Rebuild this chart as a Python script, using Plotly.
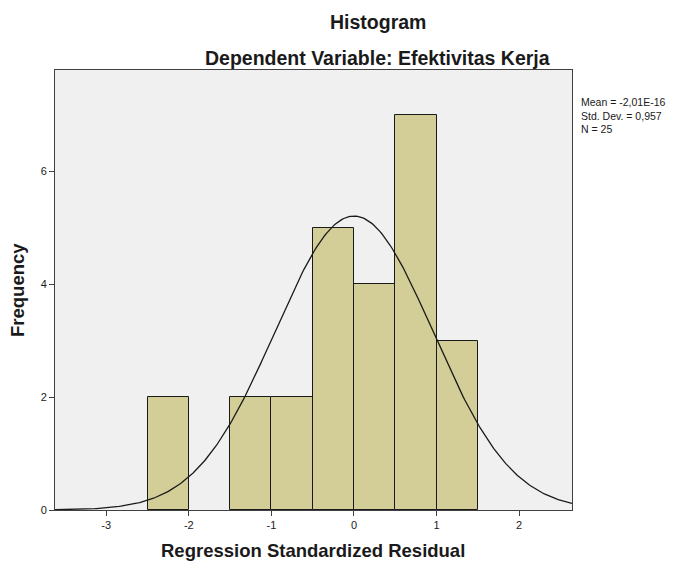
import numpy as np
import plotly.graph_objects as go

# Data
bin_centers = [-2.25, -1.25, -0.75, -0.25, 0.25, 0.75, 1.25]
counts = [2, 2, 2, 5, 4, 7, 3]
bin_width = 0.5
mean_val = -2.01e-16
std_val = 0.957
n_val = 25
x_ticks = [-3, -2, -1, 0, 1, 2]
y_ticks = [0, 2, 4, 6]

# normal curve scaled to histogram
xs = np.linspace(-3.62, 2.64, 300)
ys = n_val * bin_width / (std_val * np.sqrt(2 * np.pi)) * np.exp(-0.5 * ((xs - mean_val) / std_val) ** 2)

fig = go.Figure()
fig.add_trace(go.Bar(x=bin_centers, y=counts, width=bin_width,
                     marker=dict(color="#D3CE97", line=dict(color="#1a1a1a", width=1)),
                     hoverinfo="skip"))
fig.add_trace(go.Scatter(x=xs, y=ys, mode="lines",
                         line=dict(color="#1a1a1a", width=1.3), hoverinfo="skip"))

FONT = "Liberation Sans, Arial, sans-serif"
TXT = "#1a1a1a"
OFF = 8  # page body margin offset
W, H = 689 - OFF, 563 - OFF
L = 55 - OFF
T = 70 - OFF
R = W - (572 - OFF)
B = H - (510 - OFF)
pw, ph = W - L - R, H - T - B

def px(x):
    return (x - OFF - L) / pw

def py(y):
    return (H - B - (y - OFF)) / ph

def ann(text, x, y, size=14, **kw):
    d = dict(text=text, xref="paper", yref="paper", x=px(x), y=py(y),
             xanchor="center", yanchor="middle", showarrow=False,
             font=dict(size=size, family=FONT, color=TXT))
    d.update(kw)
    return d

axis_common = dict(showgrid=False, zeroline=False, showline=True, mirror=True,
                   linecolor="#404040", linewidth=1, ticks="outside", ticklen=5,
                   tickcolor="#404040", tickfont=dict(size=11, family=FONT, color=TXT))

fig.update_layout(
    width=W, height=H,
    margin=dict(l=L, r=R, t=T, b=B),
    paper_bgcolor="white", plot_bgcolor="#F0F0F0",
    showlegend=False, bargap=0,
    font=dict(family=FONT, color=TXT),
    xaxis=dict(range=[-3.62, 2.64], tickvals=x_ticks, ticktext=[str(v) for v in x_ticks],
               **axis_common),
    yaxis=dict(range=[0, 7.8], tickvals=y_ticks, ticktext=[str(v) for v in y_ticks],
               **axis_common),
    annotations=[
        ann("<b>Histogram</b>", 378, 22, size=19.5),
        ann("<b>Dependent Variable: Efektivitas Kerja</b>", 377, 58, size=19.5),
        ann("<b>Regression Standardized Residual</b>", 313, 550, size=18.5),
        ann("<b>Frequency</b>", 17, 290, size=18.5, textangle=-90),
        ann("Mean = -2,01E-16<br>Std. Dev. = 0,957<br>N = 25", 579, 94, size=10.5,
            xanchor="left", yanchor="top", align="left"),
    ],
)

fig.write_html("out.html")
